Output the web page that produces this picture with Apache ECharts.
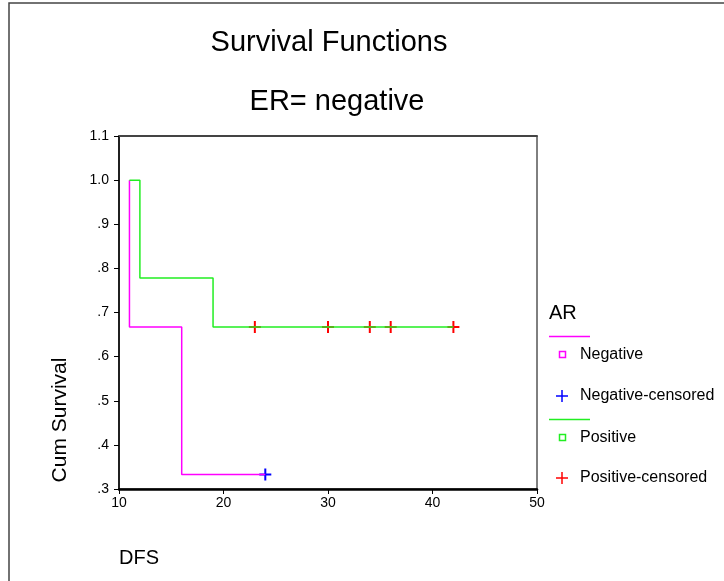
<!doctype html>
<html>
<head>
<meta charset="UTF-8">
<title>Survival Functions</title>
<script src="https://cdn.jsdelivr.net/npm/echarts@6/dist/echarts.min.js"></script>
<style>
html,body{margin:0;padding:0;background:#fff;}
#main{width:724px;height:581px;}
</style>
</head>
<body>
<div id="main"></div>
<script>
// Kaplan-Meier steps
var negTime = [11, 11, 16, 24];
var negSurv = [1.0, 0.667, 0.333, 0.333];
var posTime = [11, 12, 19, 42];
var posSurv = [1.0, 0.778, 0.667, 0.667];
// censored cases
var negCensTime = [24];
var negCensSurv = [0.333];
var posCensTime = [23, 30, 34, 36, 42];
var posCensSurv = [0.667, 0.667, 0.667, 0.667, 0.667];
// tick labels
var xTicks = ['10', '20', '30', '40', '50'];
var yTicks = ['.3', '.4', '.5', '.6', '.7', '.8', '.9', '1.0', '1.1'];
var legendNames = ['Negative', 'Negative-censored', 'Positive', 'Positive-censored'];

var FONT = '"Liberation Sans", Arial, sans-serif';
var plus = 'path://M5,0H7V5H12V7H7V12H5V7H0V5H5Z';

function pairs(xs, ys) {
	var out = [];
	for (var i = 0; i < xs.length; i++) out.push([xs[i], ys[i]]);
	return out;
}
function seg(x1, y1, x2, y2, color, w) {
	return {type: 'line', shape: {x1: x1, y1: y1, x2: x2, y2: y2}, style: {stroke: color, lineWidth: w}, silent: true};
}
function label(txt, x, y, size, align) {
	return {type: 'text', x: x, y: y, silent: true,
		style: {text: txt, align: align || 'left', verticalAlign: 'middle', fontSize: size, fontFamily: FONT, fill: '#000'}};
}

var myChart = echarts.init(document.getElementById('main'));
var option = {
	animation: false,
	backgroundColor: '#fff',
	grid: {left: 119, right: 187, top: 136, bottom: 92, show: true, borderColor: '#000', borderWidth: 1},
	xAxis: [{
		type: 'value', min: 10, max: 50, interval: 10,
		axisLine: {show: true, onZero: false, lineStyle: {color: '#000', width: 2.5}},
		axisTick: {show: true, length: 5, lineStyle: {color: '#000'}},
		axisLabel: {margin: 7, fontSize: 14, color: '#000', fontFamily: FONT,
			formatter: function (v) { return xTicks[Math.round((v - 10) / 10)]; }},
		splitLine: {show: false}
	}, {
		type: 'value', position: 'top', min: 10, max: 50,
		axisLine: {show: true, onZero: false, lineStyle: {color: '#444', width: 2}},
		axisTick: {show: false}, axisLabel: {show: false}, splitLine: {show: false}
	}],
	yAxis: {
		type: 'value', min: 0.3, max: 1.1, interval: 0.1,
		axisLine: {show: true, onZero: false, lineStyle: {color: '#000', width: 1.5}},
		axisTick: {show: true, length: 5, lineStyle: {color: '#000'}},
		axisLabel: {margin: 10, fontSize: 14, color: '#000', fontFamily: FONT,
			formatter: function (v) { return yTicks[Math.round((v - 0.3) * 10)]; }},
		splitLine: {show: false}
	},
	series: [{
		name: 'Negative', type: 'line', step: 'end', showSymbol: false,
		data: pairs(negTime, negSurv),
		lineStyle: {color: '#ff00ff', width: 1.5}
	}, {
		name: 'Positive', type: 'line', step: 'end', showSymbol: false,
		data: pairs(posTime, posSurv),
		lineStyle: {color: '#22ee22', width: 1.5}
	}, {
		name: 'Negative-censored', type: 'scatter', symbol: plus, symbolSize: 12,
		data: pairs(negCensTime, negCensSurv),
		itemStyle: {color: '#0000ff', opacity: 1}
	}, {
		name: 'Positive-censored', type: 'scatter', symbol: plus, symbolSize: 12,
		data: pairs(posCensTime, posCensSurv),
		itemStyle: {color: '#ff0000', opacity: 1}
	}],
	graphic: [
		// outer frame
		{type: 'rect', shape: {x: 9, y: 3, width: 800, height: 700},
			style: {fill: 'none', stroke: '#444', lineWidth: 1.5}, silent: true},
		label('Survival Functions', 329, 43, 29, 'center'),
		label('ER= negative', 337, 102, 29, 'center'),
		{type: 'text', x: 60, y: 420, rotation: Math.PI / 2, silent: true,
			style: {text: 'Cum Survival', align: 'center', verticalAlign: 'middle', fontSize: 21, fontFamily: FONT, fill: '#000'}},
		label('DFS', 119, 558, 20),
		// legend
		label('AR', 549, 313, 20),
		seg(549, 336.5, 590, 336.5, '#ff00ff', 1.5),
		{type: 'rect', shape: {x: 559.5, y: 351.5, width: 6, height: 6}, style: {fill: '#fff', stroke: '#ff00ff', lineWidth: 1.5}, silent: true},
		label(legendNames[0], 580, 354.5, 16),
		seg(556, 396, 568, 396, '#0000ff', 1.5),
		seg(562, 390, 562, 402, '#0000ff', 1.5),
		label(legendNames[1], 580, 396, 16),
		seg(549, 419.5, 590, 419.5, '#22ee22', 1.5),
		{type: 'rect', shape: {x: 559.5, y: 434.5, width: 6, height: 6}, style: {fill: '#fff', stroke: '#22ee22', lineWidth: 1.5}, silent: true},
		label(legendNames[2], 580, 437.5, 16),
		seg(556, 478, 568, 478, '#ff0000', 1.5),
		seg(562, 472, 562, 484, '#ff0000', 1.5),
		label(legendNames[3], 580, 478, 16)
	]
};
myChart.setOption(option);
</script>
</body>
</html>
